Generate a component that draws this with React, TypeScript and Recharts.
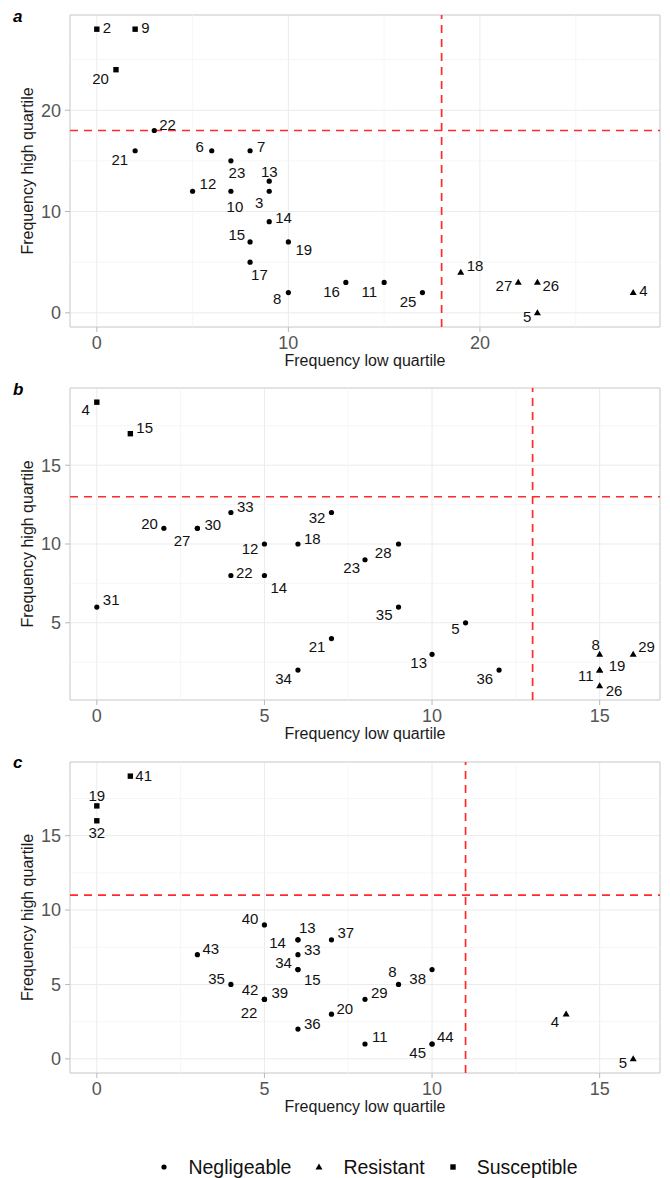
import React from "react";
import {
  ScatterChart,
  Scatter,
  XAxis,
  YAxis,
  CartesianGrid,
  ReferenceLine,
  ReferenceArea,
  Label,
} from "recharts";

type Cls = "N" | "R" | "S";

// ---- panel a ----
const aIds = [2, 9, 20, 22, 21, 6, 7, 23, 13, 12, 10, 3, 14, 15, 19, 17, 8, 16, 11, 25, 18, 27, 26, 5, 4];
const aLow = [0, 2, 1, 3, 2, 6, 8, 7, 9, 5, 7, 9, 9, 8, 10, 8, 10, 13, 15, 17, 19, 22, 23, 23, 28];
const aHigh = [28, 28, 24, 18, 16, 16, 16, 15, 13, 12, 12, 12, 9, 7, 7, 5, 2, 3, 3, 2, 4, 3, 3, 0, 2];
const aClass: Cls[] = ["S", "S", "S", "N", "N", "N", "N", "N", "N", "N", "N", "N", "N", "N", "N", "N", "N", "N", "N", "N", "R", "R", "R", "R", "R"];
const aXTicks = [0, 10, 20];
const aYTicks = [0, 10, 20];
const aXMinor = [5, 15, 25];
const aYMinor = [5, 15, 25];
const aCutLow = 18;
const aCutHigh = 18;

// ---- panel b ----
const bIds = [4, 15, 33, 32, 20, 27, 30, 12, 18, 22, 14, 31, 21, 34, 28, 23, 35, 5, 13, 36, 8, 29, 19, 11, 26];
const bLow = [0, 1, 4, 7, 2, 3, 3, 5, 6, 4, 5, 0, 7, 6, 9, 8, 9, 11, 10, 12, 15, 16, 15, 15, 15];
const bHigh = [19, 17, 12, 12, 11, 11, 11, 10, 10, 8, 8, 6, 4, 2, 10, 9, 6, 5, 3, 2, 3, 3, 2, 2, 1];
const bClass: Cls[] = ["S", "S", "N", "N", "N", "N", "N", "N", "N", "N", "N", "N", "N", "N", "N", "N", "N", "N", "N", "N", "R", "R", "R", "R", "R"];
const bXTicks = [0, 5, 10, 15];
const bYTicks = [5, 10, 15];
const bXMinor = [2.5, 7.5, 12.5];
const bYMinor = [2.5, 7.5, 12.5, 17.5];
const bCutLow = 13;
const bCutHigh = 13;

// ---- panel c ----
const cIds = [41, 19, 32, 40, 13, 14, 37, 33, 34, 15, 43, 35, 42, 39, 22, 36, 20, 29, 8, 38, 11, 44, 45, 4, 5];
const cLow = [1, 0, 0, 5, 6, 6, 7, 6, 6, 6, 3, 4, 5, 5, 5, 6, 7, 8, 9, 10, 8, 10, 10, 14, 16];
const cHigh = [19, 17, 16, 9, 8, 8, 8, 7, 6, 6, 7, 5, 4, 4, 4, 2, 3, 4, 5, 6, 1, 1, 1, 3, 0];
const cClass: Cls[] = ["S", "S", "S", "N", "N", "N", "N", "N", "N", "N", "N", "N", "N", "N", "N", "N", "N", "N", "N", "N", "N", "N", "N", "R", "R"];
const cXTicks = [0, 5, 10, 15];
const cYTicks = [0, 5, 10, 15];
const cXMinor = [2.5, 7.5, 12.5];
const cYMinor = [2.5, 7.5, 12.5, 17.5];
const cCutLow = 11;
const cCutHigh = 11;

const classKeys: Cls[] = ["N", "R", "S"];
const classNames = ["Negligeable", "Resistant", "Susceptible"];

// label placement (repel-like), [dx, dy, anchor]
type Nudge = Record<number, [number, number, "s" | "e" | "m"]>;
const aNudge: Nudge = {
  2: [6, -2, "s"], 9: [6, -2, "s"], 20: [-7, 9, "e"], 22: [5, -6, "s"], 21: [-7, 9, "e"],
  6: [-8, -4, "e"], 7: [7, -4, "s"], 23: [6, 12, "m"], 13: [0, -10, "m"], 12: [7, -8, "s"],
  10: [4, 15, "m"], 3: [-6, 11, "e"], 14: [6, -4, "s"], 15: [-5, -7, "e"], 19: [7, 8, "s"],
  17: [1, 12, "s"], 8: [-7, 6, "e"], 16: [-6, 9, "e"], 11: [-7, 9, "e"], 25: [-6, 9, "e"],
  18: [6, -7, "s"], 27: [-6, 3, "e"], 26: [5, 3, "s"], 5: [-6, 4, "e"], 4: [6, -2, "s"],
};
const bNudge: Nudge = {
  4: [-7, 7, "e"], 15: [6, -6, "s"], 33: [6, -6, "s"], 32: [-6, 5, "e"], 20: [-6, -5, "e"],
  27: [-7, 12, "e"], 30: [7, -4, "s"], 12: [-6, 5, "e"], 18: [6, -5, "s"], 22: [5, -3, "s"],
  14: [6, 12, "s"], 31: [6, -7, "s"], 21: [-6, 8, "e"], 34: [-6, 9, "e"], 28: [-7, 9, "e"],
  23: [-5, 8, "e"], 35: [-6, 8, "e"], 5: [-6, 6, "e"], 13: [-5, 8, "e"], 36: [-6, 9, "e"],
  8: [-4, -10, "m"], 29: [5, -8, "s"], 19: [9, -4, "s"], 11: [-6, 6, "e"], 26: [6, 5, "s"],
};
const cNudge: Nudge = {
  41: [5, -1, "s"], 19: [0, -10, "m"], 32: [0, 12, "m"], 40: [-6, -6, "e"], 13: [1, -12, "s"],
  14: [-12, 3, "e"], 37: [6, -7, "s"], 33: [6, -5, "s"], 34: [-6, -7, "e"], 15: [6, 10, "s"],
  43: [5, -6, "s"], 35: [-6, -6, "e"], 42: [-6, -10, "e"], 39: [7, -7, "s"], 22: [-7, 13, "e"],
  36: [6, -6, "s"], 20: [5, -6, "s"], 29: [6, -7, "s"], 8: [-2, -13, "e"], 38: [-6, 9, "e"],
  11: [7, -7, "s"], 44: [5, -7, "s"], 45: [-6, 9, "e"], 4: [-7, 7, "e"], 5: [-6, 4, "e"],
};

const FONT = "'Liberation Sans', Arial, Helvetica, sans-serif";
const CUT = "#FF2B2B";

// ggplot-style 5% expansion of the data range
const expand = (v: number[]): [number, number] => {
  const lo = Math.min(...v);
  const hi = Math.max(...v);
  const pad = (hi - lo) * 0.05;
  return [lo - pad, hi + pad];
};

function marker(kind: Cls, cx: number, cy: number) {
  if (kind === "S") return <rect x={cx - 2.7} y={cy - 2.7} width={5.4} height={5.4} fill="#000" />;
  if (kind === "R")
    return <path d={`M${cx},${cy - 3.6} L${cx + 3.5},${cy + 2.4} L${cx - 3.5},${cy + 2.4} Z`} fill="#000" />;
  return <circle cx={cx} cy={cy} r={2.6} fill="#000" />;
}

const makeShape = (kind: Cls, nudge: Nudge) => (p: any) => {
  const { cx, cy, payload } = p;
  const n = nudge[payload.id] ?? [6, -4, "s"];
  const anchor = n[2] === "s" ? "start" : n[2] === "e" ? "end" : "middle";
  return (
    <g>
      {marker(kind, cx, cy)}
      <text x={cx + n[0]} y={cy + n[1]} dy="0.36em" textAnchor={anchor} fontSize={15} fill="#111" fontFamily={FONT}>
        {payload.id}
      </text>
    </g>
  );
};

interface PanelProps {
  tag: string;
  tagY: number;
  ids: number[];
  low: number[];
  high: number[];
  cls: Cls[];
  xTicks: number[];
  yTicks: number[];
  xMinor: number[];
  yMinor: number[];
  cutLow: number;
  cutHigh: number;
  nudge: Nudge;
  height: number;
  top: number;
}

function Panel(props: PanelProps) {
  const { tag, tagY, ids, low, high, cls, xTicks, yTicks, xMinor, yMinor, cutLow, cutHigh, nudge, height, top } = props;
  const rows = ids.map((id, i) => ({ id, low: low[i], high: high[i], cls: cls[i] }));
  const xDom = expand(low);
  const yDom = expand(high);
  const tick = { fontSize: 18, fill: "#555", fontFamily: FONT };
  return (
    <div style={{ position: "relative", width: 670, height }}>
      <ScatterChart width={670} height={height} margin={{ top, right: 10, bottom: 0, left: 0 }}>
        <CartesianGrid stroke="#EBEBEB" strokeWidth={1} />
        {xMinor.map((v) => (
          <ReferenceLine key={`xm${v}`} x={v} stroke="#F4F4F4" strokeWidth={0.8} />
        ))}
        {yMinor.map((v) => (
          <ReferenceLine key={`ym${v}`} y={v} stroke="#F4F4F4" strokeWidth={0.8} />
        ))}
        <ReferenceArea x1={xDom[0]} x2={xDom[1]} y1={yDom[0]} y2={yDom[1]} fill="none" fillOpacity={0} stroke="#D0D0D0" strokeWidth={1} />
        <XAxis
          type="number"
          dataKey="low"
          domain={xDom}
          ticks={xTicks}
          interval={0}
          allowDataOverflow
          axisLine={false}
          tickLine={{ stroke: "#B8B8B8" }}
          tickSize={5}
          tickMargin={4}
          tick={tick}
          height={50}
        >
          <Label
            content={(lp: any) => {
              const vb = lp.viewBox;
              return (
                <text x={vb.x + vb.width / 2} y={vb.y + 39} textAnchor="middle" fontSize={16} fill="#1a1a1a" fontFamily={FONT}>
                  Frequency low quartile
                </text>
              );
            }}
          />
        </XAxis>
        <YAxis
          type="number"
          dataKey="high"
          domain={yDom}
          ticks={yTicks}
          interval={0}
          allowDataOverflow
          axisLine={false}
          tickLine={{ stroke: "#B8B8B8" }}
          tickSize={5}
          tickMargin={4}
          tick={tick}
          width={70}
        >
          <Label
            content={(lp: any) => {
              const vb = lp.viewBox;
              const cy = vb.y + vb.height / 2;
              return (
                <text
                  x={32.5}
                  y={cy}
                  transform={`rotate(-90, 32.5, ${cy})`}
                  textAnchor="middle"
                  fontSize={16}
                  fill="#1a1a1a"
                  fontFamily={FONT}
                >
                  Frequency high quartile
                </text>
              );
            }}
          />
        </YAxis>
        <ReferenceLine x={cutLow} stroke={CUT} strokeWidth={1.7} strokeDasharray="8 6" />
        <ReferenceLine y={cutHigh} stroke={CUT} strokeWidth={1.7} strokeDasharray="8 6" />
        {classKeys.map((k) => (
          <Scatter
            key={k}
            name={classNames[classKeys.indexOf(k)]}
            data={rows.filter((r) => r.cls === k)}
            shape={makeShape(k, nudge)}
            isAnimationActive={false}
          />
        ))}
      </ScatterChart>
      <svg width={40} height={30} style={{ position: "absolute", left: 0, top: 0 }}>
        <text x={13} y={tagY} fontSize={17} fontWeight="bold" fontStyle="italic" fontFamily={FONT} fill="#000">
          {tag}
        </text>
      </svg>
    </div>
  );
}

function LegendRow() {
  return (
    <div
      style={{
        height: 55,
        paddingLeft: 78,
        paddingRight: 10,
        display: "flex",
        justifyContent: "center",
        alignItems: "flex-end",
        fontFamily: FONT,
        fontSize: 19.5,
        color: "#111",
      }}
    >
      <div style={{ display: "flex", alignItems: "center", height: 30, position: "relative", top: 4 }}>
        {classKeys.map((k, i) => (
          <div key={k} style={{ display: "flex", alignItems: "center", marginLeft: i === 0 ? 0 : 24 }}>
            <svg width={8} height={10} style={{ marginRight: 20 }}>
              {marker(k, 4, 5)}
            </svg>
            <span>{classNames[i]}</span>
          </div>
        ))}
      </div>
    </div>
  );
}

export default function App() {
  return (
    <div style={{ width: 670, height: 1178, background: "#fff", fontFamily: FONT, overflow: "hidden" }}>
      <style>{"body{margin:0;overflow:hidden}"}</style>
      <Panel
        tag="a" tagY={22} ids={aIds} low={aLow} high={aHigh} cls={aClass}
        xTicks={aXTicks} yTicks={aYTicks} xMinor={aXMinor} yMinor={aYMinor}
        cutLow={aCutLow} cutHigh={aCutHigh} nudge={aNudge} height={377} top={15}
      />
      <Panel
        tag="b" tagY={18} ids={bIds} low={bLow} high={bHigh} cls={bClass}
        xTicks={bXTicks} yTicks={bYTicks} xMinor={bXMinor} yMinor={bYMinor}
        cutLow={bCutLow} cutHigh={bCutHigh} nudge={bNudge} height={373} top={11}
      />
      <Panel
        tag="c" tagY={18} ids={cIds} low={cLow} high={cHigh} cls={cClass}
        xTicks={cXTicks} yTicks={cYTicks} xMinor={cXMinor} yMinor={cYMinor}
        cutLow={cCutLow} cutHigh={cCutHigh} nudge={cNudge} height={373} top={12}
      />
      <LegendRow />
    </div>
  );
}
